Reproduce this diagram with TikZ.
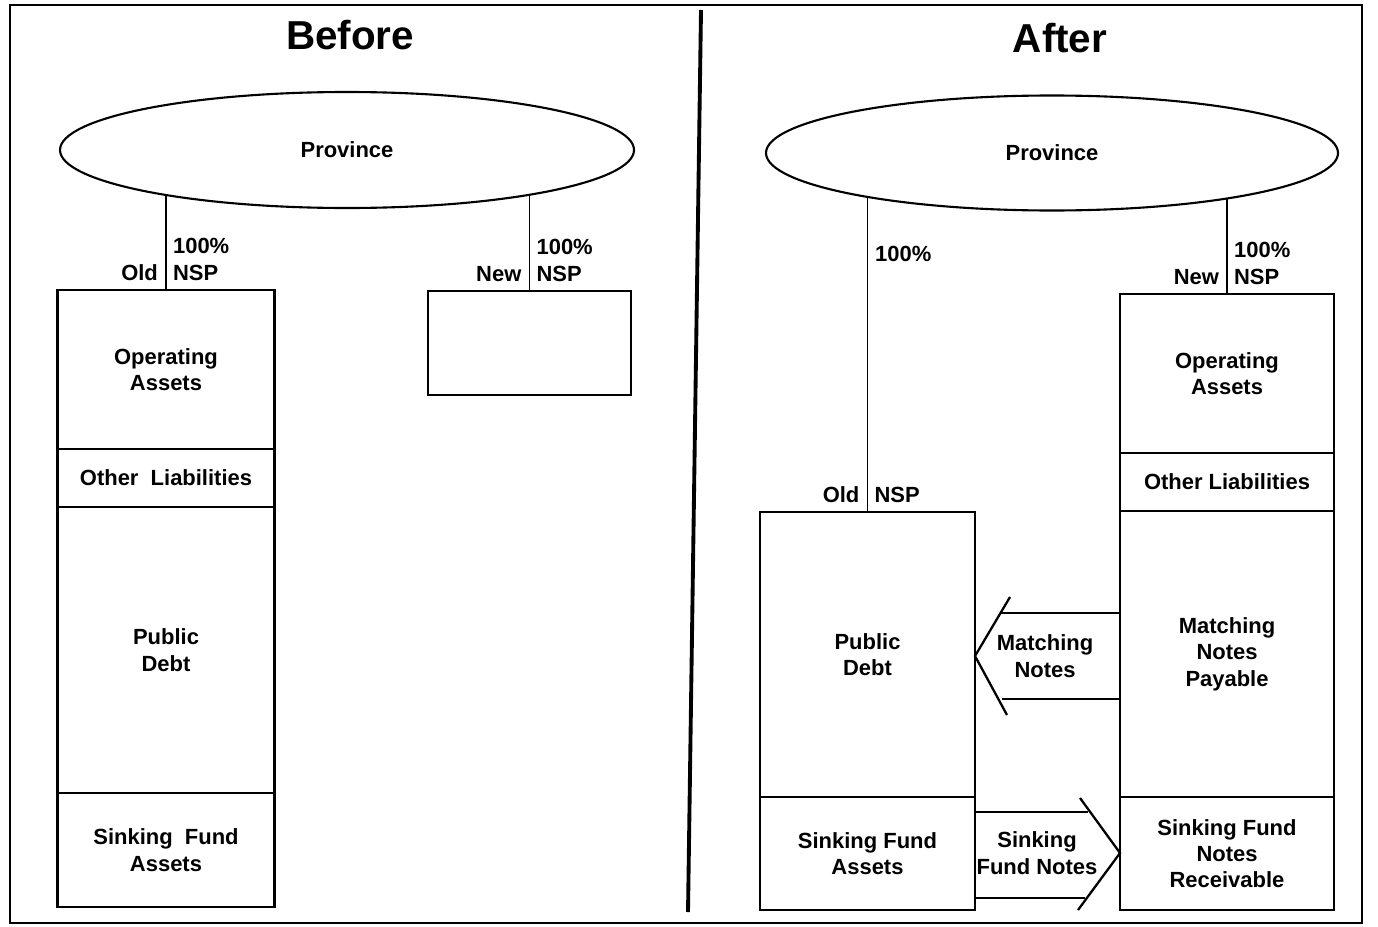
\documentclass[tikz,border=0pt]{standalone}
\usepackage{fontspec}
\setmainfont{Liberation Sans}
\usetikzlibrary{positioning, shapes.geometric, backgrounds}
\newcommand{\pxu}{0.02cm}
\newcommand{\labfont}{\fontsize{12.5}{15}\selectfont\bfseries}
\tikzset{
	box/.style={
		rectangle,
		draw=black,
		line width=1.4pt,
		align=center,
		inner sep=0pt,
		outer sep=0pt,
		font=\labfont
	},
	bw/.style={minimum width=#1*\pxu},
	bh/.style={minimum height=#1*\pxu},
	prov/.style={ellipse, draw=black, line width=1.2pt, fill=white,
		inner sep=0pt, font=\labfont},
	lab/.style={inner sep=1pt, font=\labfont},
	head/.style={font=\fontsize{23}{27}\selectfont\bfseries},
	link/.style={line width=1.1pt},
	notes/.style={line width=1.3pt}
}

\begin{document}
\begin{tikzpicture}[x=0.02cm, y=-0.02cm]
	\useasboundingbox (0,0) rectangle (1378,926);
	% frame and divider
	\draw[line width=0.8pt] (10,5) rectangle (1362,923);
	\draw[line width=2.2pt] (701,10) -- (688,912);

	% ---- before ----
	\node[head] (befT) at (350,35) {Before};
	\node[prov, minimum width=574*\pxu, minimum height=116*\pxu] (provL) at (347,150) {Province};

	\node[box, bw=217, bh=159, anchor=north] (opL) at (166,290) {Operating\\Assets};
	\node[box, bw=217, bh=58, below=0pt of opL] (olL) {Other\ \ Liabilities};
	\node[box, bw=217, bh=286, below=0pt of olL] (pdL) {Public\\Debt};
	\node[box, bw=217, bh=114, below=0pt of pdL] (sfL) {Sinking\ \ Fund\\Assets};

	\node[box, bw=203, bh=104, anchor=north] (nbL) at (529.5,291) {};

	\begin{scope}[on background layer]
		\draw[link] (opL.north) -- (opL.north |- provL.center);
		\draw[link] (nbL.north) -- (nbL.north |- provL.center);
	\end{scope}

	\node[lab, above right=7*\pxu and 5*\pxu of opL.north, anchor=south west] (nspL) {NSP};
	\node[lab, above=4pt of nspL.north west, anchor=south west] (pctL) {100\%};
	\node[lab, above left=7*\pxu and 6*\pxu of opL.north, anchor=south east] (oldL) {Old};
	\node[lab, above right=7*\pxu and 5*\pxu of nbL.north, anchor=south west] (nspN) {NSP};
	\node[lab, above=4pt of nspN.north west, anchor=south west] (pctN) {100\%};
	\node[lab, above left=7*\pxu and 6*\pxu of nbL.north, anchor=south east] (newL) {New};

	% ---- after ----
	\node[head] (aftT) at (1060,38) {After};
	\node[prov, minimum width=572*\pxu, minimum height=115*\pxu] (provR) at (1052,153) {Province};

	\node[box, bw=215, bh=285, anchor=north] (pdR) at (867.5,512) {Public\\Debt};
	\node[box, bw=215, bh=113, below=0pt of pdR] (sfR) {Sinking Fund\\Assets};

	\node[box, bw=214, bh=159, anchor=north] (opR) at (1227,294) {Operating\\Assets};
	\node[box, bw=214, bh=58, below=0pt of opR] (olR) {Other Liabilities};
	\node[box, bw=214, bh=286, below=0pt of olR] (mnR) {Matching\\Notes\\Payable};
	\node[box, bw=214, bh=113, below=0pt of mnR] (snR) {Sinking Fund\\Notes\\Receivable};

	\begin{scope}[on background layer]
		\draw[link] (pdR.north) -- (pdR.north |- provR.center);
		\draw[link] (opR.north) -- (opR.north |- provR.center);
	\end{scope}

	\node[lab, anchor=west] (pctO) at (873,254) {100\%};
	\node[lab, above right=7*\pxu and 5*\pxu of pdR.north, anchor=south west] (nspO) {NSP};
	\node[lab, above left=7*\pxu and 6*\pxu of pdR.north, anchor=south east] (oldR) {Old};
	\node[lab, above right=7*\pxu and 5*\pxu of opR.north, anchor=south west] (nspR) {NSP};
	\node[lab, above=4pt of nspR.north west, anchor=south west] (pctR) {100\%};
	\node[lab, above left=7*\pxu and 6*\pxu of opR.north, anchor=south east] (newR) {New};

	% notes between the two companies
	\node[lab, align=center] (mnA) at (1045,656) {Matching\\Notes};
	\draw[notes] (mnR.west |- 0,613) -- (1000,613);
	\draw[notes] (mnR.west |- 0,699) -- (1002,699);
	\draw[notes] (1010,597) -- (pdR.east |- mnA) -- (1007,715);

	\node[lab, align=center] (sfA) at (1037,853) {Sinking\\Fund Notes};
	\draw[notes] (sfR.east |- 0,812) -- (1088,812);
	\draw[notes] (sfR.east |- 0,898) -- (1085,898);
	\draw[notes] (1080,798) -- (snR.west |- sfA) -- (1078,910);
\end{tikzpicture}
\end{document}
